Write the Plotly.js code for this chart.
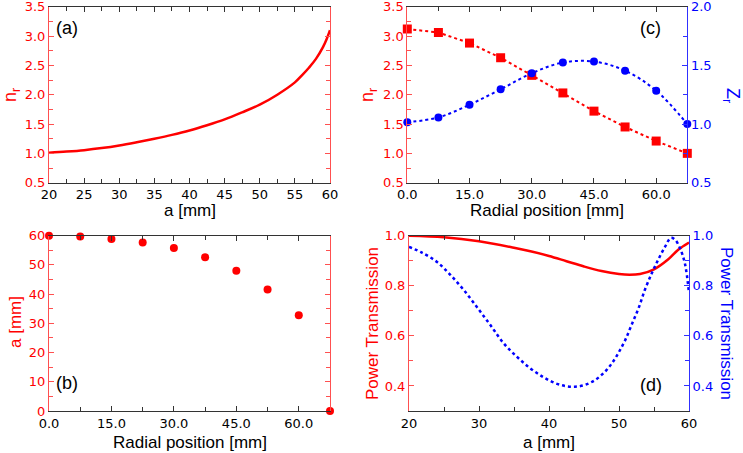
<!DOCTYPE html>
<html>
<head>
<meta charset="utf-8">
<script src="https://cdn.plot.ly/plotly-3.0.1.min.js"></script>
<style>html,body{margin:0;padding:0;background:#fff}#chart{width:743px;height:453px}</style>
</head>
<body>
<div id="chart"></div>
<script>
// Panel (a): n_r vs a
const aA = [20, 22.5, 25, 27.5, 30, 32.5, 35, 37.5, 40, 42.5, 45, 47.5, 50, 52.5, 55, 56, 57, 58, 59, 59.5, 60];
const nrA = [1.01, 1.03, 1.055, 1.09, 1.135, 1.19, 1.25, 1.315, 1.39, 1.48, 1.58, 1.70, 1.83, 2.00, 2.21, 2.33, 2.46, 2.61, 2.81, 2.94, 3.10];

// Panels (b),(c): radial positions
const radial = [0, 7.5, 15, 22.5, 30, 37.5, 45, 52.5, 60, 67.5];
const nrC = [3.12, 3.06, 2.88, 2.63, 2.33, 2.03, 1.72, 1.45, 1.21, 1.00];
const zrC = [1.016, 1.056, 1.165, 1.296, 1.433, 1.524, 1.532, 1.455, 1.284, 1.00];
const aB = [60, 59.7, 58.9, 57.7, 55.8, 52.6, 48.0, 41.6, 32.8, 0];

// Panel (d): power transmission vs a
const aDred = [20, 25, 30, 35, 37.5, 40, 42.5, 45, 47.5, 50, 51.5, 53, 55, 57, 58.5, 60];
const ptRed = [1.0, 0.994, 0.978, 0.952, 0.937, 0.919, 0.898, 0.877, 0.859, 0.847, 0.844, 0.847, 0.866, 0.905, 0.945, 0.973];
const aDblue = [20, 21.8, 24, 25.9, 27.8, 29.7, 31.6, 33.5, 35.4, 37.3, 39.2, 40.9, 42.3, 43.7, 45.1, 46.6, 48, 49, 49.9, 50.9, 51.8, 52.8, 53.7, 54.7, 55.6, 56.6, 57.4, 58, 58.7, 59.4, 60];
const ptBlue = [0.955, 0.933, 0.895, 0.844, 0.784, 0.715, 0.644, 0.571, 0.517, 0.471, 0.435, 0.411, 0.40, 0.397, 0.404, 0.424, 0.457, 0.491, 0.531, 0.584, 0.644, 0.711, 0.784, 0.851, 0.904, 0.957, 0.991, 0.984, 0.951, 0.891, 0.771];

const RED = '#ff0000', BLUE = '#0000ff';
const RAX = '#ff5050', BAX = '#3030ff', KAX = '#333333';
const FONT = 'Liberation Sans, Arial, Helvetica, sans-serif';
const TFONT = 'DejaVu Sans, Liberation Sans, sans-serif';

const traces = [
  {x: aA, y: nrA, xaxis: 'x', yaxis: 'y', mode: 'lines', line: {color: RED, width: 2.5, shape: 'spline'}},
  {x: radial, y: nrC, xaxis: 'x2', yaxis: 'y2', mode: 'lines+markers', line: {color: RED, width: 2, dash: 'dot'}, marker: {symbol: 'square', size: 9, color: RED}, cliponaxis: false},
  {x: radial, y: zrC, xaxis: 'x2', yaxis: 'y3', mode: 'lines+markers', line: {color: BLUE, width: 2, dash: 'dot', shape: 'spline'}, marker: {symbol: 'circle', size: 8, color: BLUE}, cliponaxis: false},
  {x: radial, y: aB, xaxis: 'x3', yaxis: 'y4', mode: 'markers', marker: {symbol: 'circle', size: 8, color: RED}, cliponaxis: false},
  {x: aDred, y: ptRed, xaxis: 'x4', yaxis: 'y5', mode: 'lines', line: {color: RED, width: 2.5, shape: 'spline'}},
  {x: aDblue, y: ptBlue, xaxis: 'x4', yaxis: 'y6', mode: 'lines', line: {color: BLUE, width: 2.5, dash: 'dot', shape: 'spline'}}
];

function xax(domain, anchor, range, dtick, minor, fmt) {
  return {domain: domain, anchor: anchor, range: range, dtick: dtick, tick0: range[0], tickformat: fmt,
    showgrid: false, zeroline: false, showline: true, linecolor: KAX, linewidth: 1, mirror: 'ticks',
    ticks: 'inside', ticklen: 5, tickcolor: KAX, tickfont: {family: TFONT, size: 13, color: '#000'},
    ticklabeloverflow: 'allow',
    minor: {dtick: minor, ticks: 'inside', ticklen: 4, tickcolor: KAX, showgrid: false}, fixedrange: true};
}
function yax(domain, anchor, range, dtick, minor, fmt, color, side, mirror, tick0) {
  const o = {domain: domain, anchor: anchor, range: range, dtick: dtick, tick0: tick0, tickformat: fmt,
    showgrid: false, zeroline: false, showline: true, linecolor: color, linewidth: 1,
    ticks: 'inside', ticklen: 5, tickcolor: color, tickfont: {family: TFONT, size: 13, color: color === RAX ? RED : BLUE},
    ticklabeloverflow: 'allow',
    minor: {dtick: minor, ticks: 'inside', ticklen: 4, tickcolor: color, showgrid: false}, side: side, fixedrange: true};
  if (mirror) o.mirror = 'ticks';
  return o;
}

const dxL = [49/743, 330/743], dxC = [407.3/743, 687.3/743], dxD = [409/743, 689/743];
const dyT = [1 - 182.7/453, 1 - 6.7/453], dyB = [1 - 411/453, 1 - 235.7/453];

const layout = {
  width: 743, height: 453, margin: {l: 0, r: 0, t: 0, b: 0}, showlegend: false,
  paper_bgcolor: '#fff', plot_bgcolor: '#fff', font: {family: FONT},
  xaxis: xax(dxL, 'y', [20, 60], 5, 2.5, 'd'),
  yaxis: yax(dyT, 'x', [0.5, 3.5], 0.5, 0.25, '.1f', RAX, 'left', true, 0.5),
  xaxis2: xax(dxC, 'y2', [0, 67.5], 15, 7.5, '.1f'),
  yaxis2: yax(dyT, 'x2', [0.5, 3.5], 0.5, 0.25, '.1f', RAX, 'left', false, 0.5),
  yaxis3: Object.assign(yax(dyT, 'x2', [0.5, 2.0], 0.5, 0.25, '.1f', BAX, 'right', false, 0.5), {overlaying: 'y2'}),
  xaxis3: xax(dxL, 'y4', [0, 67.5], 15, 7.5, '.1f'),
  yaxis4: yax(dyB, 'x3', [0, 60], 10, 5, 'd', RAX, 'left', true, 0),
  xaxis4: xax(dxD, 'y5', [20, 60], 10, 5, 'd'),
  yaxis5: yax(dyB, 'x4', [0.3, 1.0], 0.2, 0.1, '.1f', RAX, 'left', false, 0.4),
  yaxis6: Object.assign(yax(dyB, 'x4', [0.3, 1.0], 0.2, 0.1, '.1f', BAX, 'right', false, 0.4), {overlaying: 'y5'}),
  annotations: []
};

function ann(text, x, y, color, size, angle) {
  layout.annotations.push({text: text, x: x/743, y: 1 - y/453, xref: 'paper', yref: 'paper',
    xanchor: 'center', yanchor: 'middle', showarrow: false, textangle: angle || 0, borderpad: 0,
    font: {family: FONT, size: size, color: color}});
}
// axis titles
ann('a [mm]', 189.5, 211, '#000', 17);
ann('n<sub>r</sub>', 12, 95, RED, 18, -90);
ann('Radial position [mm]', 547, 211, '#000', 17);
ann('n<sub>r</sub>', 369, 95, RED, 18, -90);
ann('Z<sub>r</sub>', 731, 95, BLUE, 18, 90);
ann('a [mm]', 15, 322, RED, 17, -90);
ann('Radial position [mm]', 189.5, 442, '#000', 17);
ann('Power Transmission', 372, 323, RED, 17, -90);
ann('Power Transmission', 727, 323, BLUE, 17, 90);
ann('a [mm]', 549, 442, '#000', 17);
// panel labels
ann('(a)', 67, 28, '#000', 18);
ann('(c)', 650, 28, '#000', 18);
ann('(b)', 67, 383, '#000', 18);
ann('(d)', 651, 385, '#000', 18);

Plotly.newPlot('chart', traces, layout, {staticPlot: true, displayModeBar: false});
</script>
</body>
</html>
